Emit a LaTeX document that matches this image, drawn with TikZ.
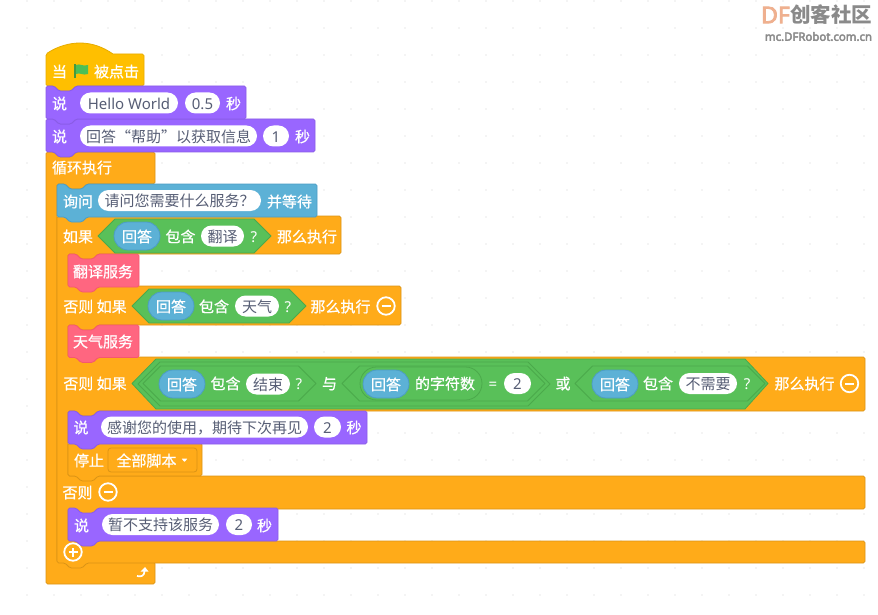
\documentclass[tikz,border=0pt]{standalone}
\usepackage{fontspec}
\setmainfont{Noto Sans CJK SC}[RawFeature={embolden=0.7}]
\newfontfamily\latfont{Noto Sans}
\newfontfamily\fldfont{Noto Sans CJK SC}
\newfontfamily\logolat{Noto Sans}[RawFeature={embolden=3.5}]
\newfontfamily\logocjk{Noto Sans CJK SC}
\usetikzlibrary{shapes.misc}
\definecolor{orng}{HTML}{FFAB19}\definecolor{orngE}{HTML}{DB9416}
\definecolor{purp}{HTML}{9966FF}\definecolor{purpE}{HTML}{8A5CE6}
\definecolor{blu}{HTML}{5CB1D6}\definecolor{bluE}{HTML}{4C9DC4}
\definecolor{grn}{HTML}{59C059}\definecolor{grnE}{HTML}{4BA94B}
\definecolor{pnk}{HTML}{FF6680}\definecolor{pnkE}{HTML}{F5586F}
\definecolor{hat}{HTML}{FFBF00}\definecolor{hatE}{HTML}{E6AC00}
\definecolor{gtxt}{HTML}{575E75}
\definecolor{dotc}{HTML}{EAEAEA}
\definecolor{logoo}{HTML}{EFB08F}
\definecolor{logog}{HTML}{8A8A8A}
\definecolor{flagc}{HTML}{4CBF56}
\definecolor{flagp}{HTML}{45993D}
\newcommand\ntop[2]{-- ({#1+8},#2) -- ({#1+13},{#2+5}) -- ({#1+25},{#2+5}) -- ({#1+30},#2)}
\newcommand\nbot[2]{-- ({#1+30},#2) -- ({#1+25},{#2+5}) -- ({#1+13},{#2+5}) -- ({#1+8},#2)}
% stack block: x1 y1 x2 y2 fill edge
\newcommand\stackblk[6]{\draw[fill=#5,draw=#6,line width=.8pt,rounded corners=1.6pt,line join=round]
 (#1,#2) \ntop{#1}{#2} -- (#3,#2) -- (#3,#4) \nbot{#1}{#4} -- (#1,#4) -- cycle;}
\newcommand\hexa[5]{\draw[fill=#5,draw=grnE,line width=.8pt,line join=round]
 (#1,{(#3+#4)/2}) -- ({#1+(#4-#3)/2},#3) -- ({#2-(#4-#3)/2},#3) -- (#2,{(#3+#4)/2}) -- ({#2-(#4-#3)/2},#4) -- ({#1+(#4-#3)/2},#4) -- cycle;}
\tikzset{
  tx/.style={inner sep=0pt,text=white,font=\fontsize{15}{15}\selectfont,text height=13pt,text depth=.5pt,anchor=center},
  fld/.style={rounded rectangle,fill=white,inner sep=0pt,text=gtxt,font=\fontsize{15}{15}\selectfont\fldfont,minimum height=21pt,text height=13pt,text depth=.5pt},
  ovl/.style={rounded rectangle,fill=blu,draw=bluE,line width=.8pt,inner sep=0pt,text=white,font=\fontsize{15}{15}\selectfont,minimum width=46pt,minimum height=28pt,text height=13pt,text depth=.5pt},
  ring/.style={circle,draw=white,line width=1.8pt,inner sep=0pt,minimum size=17.5pt},
  ln/.style={draw=white,line width=2pt}
}
\newcommand\lat[1]{{\latfont #1}}
\begin{document}
\begin{tikzpicture}[x=1pt,y=-1pt]
\useasboundingbox (0,0) rectangle (878,615);
\fill[white] (0,0) rectangle (878,615);
\foreach \i in {0,...,31}{\foreach \j in {0,...,22}{\fill[dotc] ({27+27*\i},{1+27*\j}) circle (.8pt);}}
% logo
\node[inner sep=0pt,text=logoo,font=\fontsize{23}{23}\selectfont\logolat,anchor=center] (logoa) at (775.5,15) {DF};
\node[inner sep=0pt,text=logog,font=\fontsize{20.5}{20.5}\selectfont\logocjk\bfseries] (logob) at (831,15) {创客社区};
\node[inner sep=0pt,text=logog,font=\fontsize{11.4}{11.4}\selectfont\logolat] (logoc) at (818.5,36.5) {mc.DFRobot.com.cn};
% forever
\draw[fill=orng,draw=orngE,line width=.8pt,rounded corners=1.6pt,line join=round]
 (46,152) \ntop{46}{152} -- (155,152) -- (155,184) \nbot{57}{184} -- (57,184) -- (57,562)
 -- (65,562) -- (70,567) -- (82,567) -- (87,562) -- (155,562) -- (155,584) -- (46,584) -- cycle;
% hat block
\draw[fill=hat,draw=hatE,line width=.8pt,rounded corners=1.6pt,line join=round]
 (46,54) [sharp corners] .. controls (58,46) and (70,43) .. (80,43) .. controls (92,43) and (103,47) .. (113,54)
 [rounded corners=1.6pt] -- (144,54) -- (144,86) \nbot{46}{86} -- (46,86) -- cycle;
% say 1,2
\stackblk{46}{119}{315}{152}{purp}{purpE}
\stackblk{46}{86}{246}{119}{purp}{purpE}
% if / else c-block
\draw[fill=orng,draw=orngE,line width=.8pt,rounded corners=1.6pt,line join=round]
 (57,216) \ntop{57}{216} -- (341,216) -- (341,254) \nbot{68}{254} -- (68,254) -- (68,286)
 -- (401,286) -- (401,325) \nbot{68}{325} -- (68,325) -- (68,357)
 -- (865,357) -- (865,411) \nbot{68}{411} -- (68,411) -- (68,476)
 -- (865,476) -- (865,509) \nbot{68}{509} -- (68,509) -- (68,541)
 -- (865,541) -- (865,563) -- (87,563) -- (82,568) -- (70,568) -- (65,563) -- (57,563) -- cycle;
% ask
\stackblk{57}{184}{317}{217}{blu}{bluE}
% pink
\stackblk{68}{254}{139}{287}{pnk}{pnkE}
\stackblk{68}{325}{139}{357.5}{pnk}{pnkE}
% stop, say
\stackblk{68}{443}{202}{476}{orng}{orngE}
\stackblk{68}{411}{367}{444}{purp}{purpE}
\stackblk{68}{508}{278}{541}{purp}{purpE}
% hexes
\hexa{98}{271}{219}{253}{grn}
\hexa{132}{306}{289}{323}{grn}
\draw[fill=grn,draw=grnE,line width=.8pt,line join=round] (132,383.5) -- (156,359) -- (745,359) -- (768,383.5) -- (745,409) -- (156,409) -- cycle;
\hexa{138}{550}{362}{406}{grn}
\hexa{143}{316}{366}{401}{grn}
\hexa{342}{545}{366}{401}{grn}
\hexa{575}{765}{366}{401}{grn}
% hat row
\node[tx] (t1) at (59.5,71) {当};
\fill[fill=flagp] (74,64) rectangle (76,78);
\fill[fill=flagc] (76,65) .. controls (80,63) and (83,67) .. (88,65) -- (88,74) .. controls (83,76) and (80,72) .. (76,74) -- cycle;
\node[tx] (t2) at (116.5,71) {被点击};
% say 1
\node[tx] (s1) at (59.5,103) {说};
\node[fld,minimum width=98pt] (f1) at (129,103) {\lat{Hello World}};
\node[fld,minimum width=35pt] (f2) at (202.5,103) {\lat{0.5}};
\node[tx] (s1b) at (233.5,103) {秒};
% say 2
\node[tx] (s2) at (59.5,136) {说};
\node[fld,minimum width=177pt] (f3) at (168.5,136) {回答“帮助”以获取信息};
\node[fld,minimum width=26pt] (f4) at (276,136) {\lat{1}};
\node[tx] (s2b) at (302.5,136) {秒};
% forever
\node[tx] (lp) at (82,167) {循环执行};
% ask
\node[tx] (a1) at (78,201) {询问};
\node[fld,minimum width=163pt] (f5) at (179.5,200.5) {请问您需要什么服务？};
\node[tx] (a2) at (289.5,201) {并等待};
% if
\node[tx] (i1) at (78,236) {如果};
\node[ovl] (o1) at (137,236) {回答};
\node[tx] (i2) at (180.5,236) {包含};
\node[fld,minimum width=43pt] (f6) at (222.5,236) {翻译};
\node[tx] (i3) at (254,236) {\lat{?}};
\node[tx] (i4) at (307,236) {那么执行};
\node[tx] (p1) at (103,271) {翻译服务};
% elif
\node[tx] (e1) at (95,306) {否则 如果};
\node[ovl] (o2) at (171,306) {回答};
\node[tx] (e2) at (214,306) {包含};
\node[fld,minimum width=44pt] (f7) at (257,306) {天气};
\node[tx] (e3) at (288,306) {\lat{?}};
\node[tx] (e4) at (340.5,306) {那么执行};
\node[ring] (m1) at (386,306) {};
\draw[ln] ([xshift=-4.5pt]m1.center) -- ([xshift=4.5pt]m1.center);
\node[tx] (p2) at (103,341) {天气服务};
% elif 2
\node[tx] (g1) at (95,383) {否则 如果};
\node[ovl] (o3) at (182,384) {回答};
\node[tx] (g2) at (225.5,383) {包含};
\node[fld,minimum width=44pt] (f8) at (268,384) {结束};
\node[tx] (g3) at (299,383) {\lat{?}};
\node[tx] (g4) at (329.5,383) {与};
\node[rounded rectangle,draw=grnE,fill=grn,line width=.8pt,minimum width=122pt,minimum height=33pt,inner sep=0pt] (lenoval) at (421,383.5) {};
\node[ovl] (o4) at (386,384) {回答};
\node[tx] (g5) at (445,383) {的字符数};
\node[tx] (g6) at (493,383) {\lat{=}};
\node[fld,minimum width=27pt] (f9) at (517.5,383.5) {\lat{2}};
\node[tx] (g7) at (563,383) {或};
\node[ovl] (o5) at (615,384) {回答};
\node[tx] (g8) at (658,383) {包含};
\node[fld,minimum width=58pt] (f10) at (708,383.5) {不需要};
\node[tx] (g9) at (747,383) {\lat{?}};
\node[tx] (g10) at (804.5,383) {那么执行};
\node[ring] (m2) at (849.5,383.5) {};
\draw[ln] ([xshift=-4.5pt]m2.center) -- ([xshift=4.5pt]m2.center);
% say thanks
\node[tx] (h1) at (81,427) {说};
\node[fld,minimum width=207pt] (f11) at (204.5,427) {感谢您的使用，期待下次再见};
\node[fld,minimum width=27pt] (f12) at (327.5,427) {\lat{2}};
\node[tx] (h2) at (354,427) {秒};
% stop
\node[tx] (st) at (89,460) {停止};
\draw[fill=orng,draw=orngE,line width=.8pt,rounded corners=3pt] (108,448) rectangle (197,472);
\node[tx] (st2) at (146.5,460) {全部脚本};
\fill[white,rounded corners=.5pt] (181.5,458.5) -- (187.5,458.5) -- (184.5,462) -- cycle;
% else
\node[tx] (el) at (77.5,492) {否则};
\node[ring] (m3) at (108,492) {};
\draw[ln] ([xshift=-4.5pt]m3.center) -- ([xshift=4.5pt]m3.center);
% say last
\node[tx] (k1) at (81.5,525) {说};
\node[fld,minimum width=117pt] (f13) at (160.5,524.5) {暂不支持该服务};
\node[fld,minimum width=26pt] (f14) at (239,524.5) {\lat{2}};
\node[tx] (k2) at (264.5,525) {秒};
% plus
\node[ring] (pl) at (73,552) {};
\draw[ln] ([xshift=-4.5pt]pl.center) -- ([xshift=4.5pt]pl.center);
\draw[ln] ([yshift=-4.5pt]pl.center) -- ([yshift=4.5pt]pl.center);
% loop arrow
\coordinate (la) at (137,576);
\coordinate (lb) at (144.5,571);
\draw[white,line width=1.7pt] (la) .. controls (141,577) and (144.5,576) .. (lb);
\fill[white] (140.5,571.5) -- (145,567) -- (148.5,571.5) -- cycle;
\end{tikzpicture}
\end{document}
